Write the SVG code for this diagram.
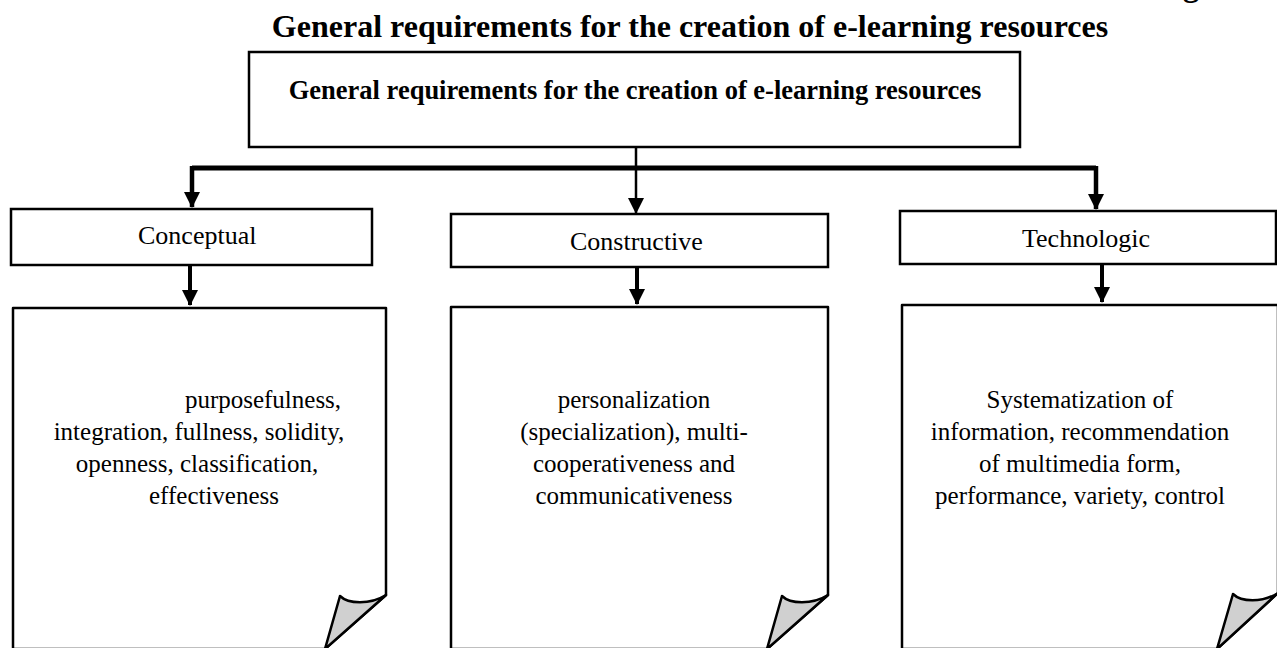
<svg xmlns="http://www.w3.org/2000/svg" width="1277" height="648" viewBox="0 0 1277 648">
<style>
.t{font-family:"Liberation Serif","Times New Roman",serif;fill:#000}
.b{font-weight:bold}
.box{fill:#fff;stroke:#000;stroke-width:2.5}
.page{fill:#fff;stroke:#000;stroke-width:2.5;stroke-linejoin:round}
.curl{fill:#d0d0d0;stroke:#000;stroke-width:2.5;stroke-linejoin:round}
.c{fill:none;stroke:#000}
.pt{font-size:25px;text-anchor:middle}
</style>
<defs>
<marker id="ah" markerUnits="userSpaceOnUse" markerWidth="16" markerHeight="16" refX="15" refY="8" orient="auto">
<path d="M0,0 L16,8 L0,16 Z" fill="#000"/>
</marker>
</defs>
<rect width="1277" height="648" fill="#fff"/>
<text class="t b" x="1183" y="-4" font-size="32">g</text>
<text class="t b" x="690" y="37" font-size="32" text-anchor="middle">General requirements for the creation of e-learning resources</text>

<g id="top">
<rect class="box" x="249" y="52" width="771" height="95" stroke-width="3.5"/>
<text class="t b" x="635" y="99" font-size="26.5" text-anchor="middle">General requirements for the creation of e-learning resources</text>
</g>

<g id="connectors">
<path class="c" d="M192,168 H1096" stroke-width="5"/>
<path class="c" d="M192,166 V207" stroke-width="4.5" marker-end="url(#ah)"/>
<path class="c" d="M1096,166 V209" stroke-width="4.5" marker-end="url(#ah)"/>
<path class="c" d="M636,147 V213" stroke-width="2.5" marker-end="url(#ah)"/>
<path class="c" d="M190,265 V305" stroke-width="4" marker-end="url(#ah)"/>
<path class="c" d="M637,267 V304" stroke-width="4" marker-end="url(#ah)"/>
<path class="c" d="M1102,264 V302" stroke-width="4" marker-end="url(#ah)"/>
</g>

<g id="conceptual">
<rect class="box" x="11" y="209" width="361" height="56"/>
<text class="t" x="138" y="244" font-size="26">Conceptual</text>
</g>
<g id="constructive">
<rect class="box" x="451" y="214" width="377" height="53"/>
<text class="t" x="570" y="250" font-size="26">Constructive</text>
</g>
<g id="technologic">
<rect class="box" x="900" y="211" width="376" height="53"/>
<text class="t" x="1022" y="247" font-size="26">Technologic</text>
</g>

<g id="page-conceptual">
<path class="page" d="M13,308 H386 V595 L325,649 H13 Z"/>
<path class="curl" d="M386,595 C370,605 348,604 340,596 L325,649 Z"/>
<text class="t pt"><tspan x="263" y="408">purposefulness,</tspan><tspan x="199" y="440">integration, fullness, solidity,</tspan><tspan x="197" y="472">openness, classification,</tspan><tspan x="214" y="504">effectiveness</tspan></text>
</g>
<g id="page-constructive">
<path class="page" d="M451,307 H828 V595 L767,649 H451 Z"/>
<path class="curl" d="M828,595 C812,605 790,604 782,596 L767,649 Z"/>
<text class="t pt"><tspan x="634" y="408">personalization</tspan><tspan x="634" y="440">(specialization), multi-</tspan><tspan x="634" y="472">cooperativeness and</tspan><tspan x="634" y="504">communicativeness</tspan></text>
</g>
<g id="page-technologic">
<path class="page" d="M902,305 H1278 V593 L1217,649 H902 Z"/>
<path class="curl" d="M1278,593 C1262,603 1241,602 1233,594 L1217,649 Z"/>
<text class="t pt"><tspan x="1080" y="408">Systematization of</tspan><tspan x="1080" y="440">information, recommendation</tspan><tspan x="1080" y="472">of multimedia form,</tspan><tspan x="1080" y="504">performance, variety, control</tspan></text>
</g>
</svg>
